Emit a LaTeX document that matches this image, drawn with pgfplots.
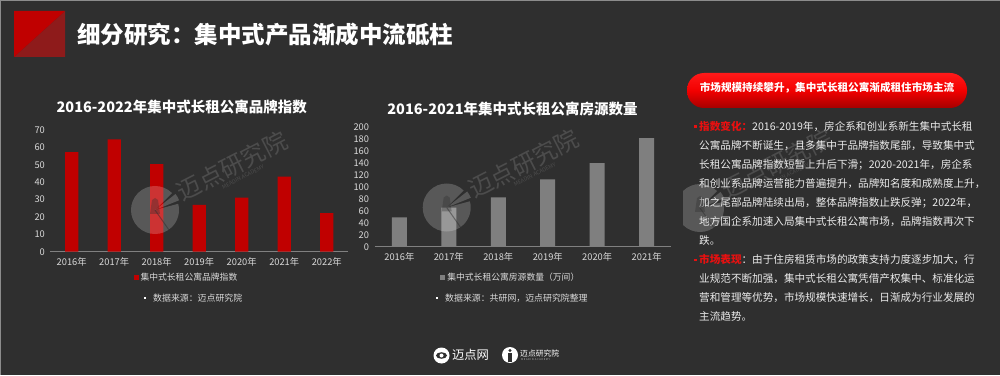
\documentclass[border=0pt]{standalone}
\usepackage{fontspec}
\setmainfont{Noto Sans CJK SC}
\usepackage{pgfplots}
\pgfplotsset{compat=1.18}
\definecolor{bg}{HTML}{2F2F2F}
\definecolor{redbar}{HTML}{C00000}
\definecolor{greybar}{HTML}{7F7F7F}
\definecolor{axisgrey}{HTML}{808080}
\definecolor{ticklbl}{HTML}{D9D9D9}
\definecolor{txt}{HTML}{EBEBEB}
\definecolor{hred}{HTML}{E81010}
\definecolor{sqA}{HTML}{C00000}
\definecolor{sqB}{HTML}{8E1B1B}
\newcommand{\wm}[2]{%
 \begin{scope}[shift={(#1,#2)}]
  \fill[white, opacity=0.2] (0,0) -- (45:24pt) arc[start angle=45, end angle=375, radius=24pt] -- cycle;
  \fill[white, opacity=0.2] (0,0) -- (22:26pt) arc[start angle=22, end angle=38, radius=26pt] -- cycle;
  \draw[bg, line width=1pt, opacity=0.5] (0,0) -- (-55:30pt);
  \fill[bg, opacity=0.35] (-5pt,-4pt) -- (-3pt,10pt) -- (0pt,12pt) -- (3pt,10pt) -- (5pt,-4pt) -- cycle;
  \node[rotate=27, text=white, opacity=0.14, font=\fontsize{24}{24}\selectfont] at (77pt,44pt) {迈点研究院};
  \node[rotate=27, text=white, opacity=0.14, font=\fontsize{5.5}{6}\selectfont] at (88pt,33pt) {MEADIN ACADEMY};
 \end{scope}}
\pgfplotsset{
  slidebars/.style={
    scale only axis, anchor=south west,
    axis x line=bottom, axis y line=left,
    x axis line style={-, draw=axisgrey, line width=1pt},
    y axis line style={draw=none},
    major tick length=0pt, tick style={draw=none},
    tick label style={font=\fontsize{9.3}{11}\selectfont, text=ticklbl},
    yticklabel style={xshift=-2pt},
    xticklabel style={yshift=-2.5pt},
    /pgf/number format/assume math mode=true,
    enlargelimits=false,
    ybar,
    legend style={draw=none, fill=none, text=ticklbl, font=\fontsize{8.8}{10}\selectfont, anchor=center},
    legend image code/.code={\fill[##1] (0pt,-2.5pt) rectangle (5pt,2.5pt);},
  }
}
\begin{document}
\begin{tikzpicture}[x=1pt,y=1pt]
\fill[bg] (0,0) rectangle (1000,375);
\useasboundingbox (0,0) rectangle (1000,375);
\draw[color=black!45, line width=1pt] (0,0) -- (0,374.5) -- (1000,374.5);
% title block
\fill[sqB] (14,318) -- (65,318) -- (65,364) -- cycle;
\fill[sqA] (14,318) -- (14,364) -- (65,364) -- cycle;
\node[anchor=west, text=white, font=\fontsize{23.5}{28}\selectfont\bfseries, inner sep=0pt] at (77,340) {细分研究：集中式产品渐成中流砥柱};
% chart titles
\node[text=white, font=\fontsize{14.5}{17}\selectfont\bfseries] at (181.7,268.3) {2016-2022年集中式长租公寓品牌指数};
\node[text=white, font=\fontsize{14.5}{17}\selectfont\bfseries] at (512.5,266) {2016-2021年集中式长租公寓房源数量};
% chart 1
\begin{axis}[slidebars,
  at={(50.4pt,123.3pt)}, width=297.6pt, height=121.7pt,
  xmin=-0.5, xmax=6.5, ymin=0, ymax=70,
  ytick={0,10,...,70}, xtick={0,...,6},
  xticklabels={2016年,2017年,2018年,2019年,2020年,2021年,2022年},
  bar width=13.3pt,
  legend style={at={(0.457,-0.216)}}]
\addplot[fill=redbar, draw=none] coordinates {(0,57.3) (1,64.6) (2,50.4) (3,26.9) (4,31.1) (5,43.2) (6,22.2)};
\legend{集中式长租公寓品牌指数}
\end{axis}
% chart 2
\begin{axis}[slidebars,
  at={(374.6pt,128.3pt)}, width=296.8pt, height=120pt,
  xmin=-0.5, xmax=5.5, ymin=0, ymax=200,
  ytick={0,20,...,200}, xtick={0,...,5},
  xticklabels={2016年,2017年,2018年,2019年,2020年,2021年},
  bar width=15pt,
  legend style={at={(0.459,-0.2525)}}]
\addplot[fill=greybar, draw=none] coordinates {(0,48.9) (1,65) (2,82.2) (3,112.2) (4,139.4) (5,181.1)};
\legend{集中式长租公寓房源数量（万间）}
\end{axis}
% sources
\fill[white] (144,76) rectangle (146,78);
\node[anchor=west, text=ticklbl, font=\fontsize{8.9}{10}\selectfont, inner sep=0pt] at (153,77) {数据来源：迈点研究院};
\fill[white] (436,76) rectangle (438,78);
\node[anchor=west, text=ticklbl, font=\fontsize{8.9}{10}\selectfont, inner sep=0pt] at (445,77) {数据来源：共研网，迈点研究院整理};
% right panel pill
\shade[rounded corners=17pt, top color=red!90!white, bottom color=red!65!black, middle color=red!95!black] (687,267) rectangle (967,302);
\node[text=white, font=\fontsize{10.6}{12}\selectfont\bfseries] at (827,287) {市场规模持续攀升，集中式长租公寓渐成租住市场主流};
% right panel text
\begin{scope}[every node/.style={anchor=west, inner sep=0pt, text=txt, font=\fontsize{10.6}{12}\selectfont}]
\fill[hred] (694,247) rectangle (696.5,249.5);
\node at (699,248.3) {{\color{hred}\bfseries 指数变化：}2016-2019年，房企系和创业系新生集中式长租};
\node at (699,229.3) {公寓品牌不断诞生，且多集中于品牌指数尾部，导致集中式};
\node at (699,210.3) {长租公寓品牌指数短暂上升后下滑；2020-2021年，房企系};
\node at (699,191.3) {和创业系品牌运营能力普遍提升，品牌知名度和成熟度上升，};
\node at (699,172.3) {加之尾部品牌陆续出局，整体品牌指数止跌反弹；2022年，};
\node at (699,153.3) {地方国企系加速入局集中式长租公寓市场，品牌指数再次下};
\node at (699,134.3) {跌。};
\fill[hred] (694,114) rectangle (696.5,116.5);
\node at (699,115.3) {{\color{hred}\bfseries 市场表现}：由于住房租赁市场的政策支持力度逐步加大，行};
\node at (699,96.3) {业规范不断加强，集中式长租公寓凭借产权集中、标准化运};
\node at (699,77.3) {营和管理等优势，市场规模快速增长，日渐成为行业发展的};
\node at (699,58.3) {主流趋势。};
\end{scope}
% watermarks
\wm{155}{165}
\wm{446.7}{167.5}
\begin{scope}
\clip (683,0) rectangle (1000,375);
\wm{700}{167}
\end{scope}
% footer logos
\fill[white] (441.5,19.5) circle (8);
\fill[bg] (441.5,19.5) ellipse (5.5 and 3.3);
\fill[white] (441.5,19.5) circle (2);
\node[text=white, font=\fontsize{12.3}{14}\selectfont, inner sep=0pt] at (470.5,20) {迈点网};
\fill[white] (510,20) circle (8);
\fill[bg] (508,13) rectangle (512,22);
\fill[bg] (510,24.5) circle (1.6);
\node[anchor=west, text=white, font=\fontsize{7.8}{9}\selectfont, inner sep=0pt] at (520,21.5) {迈点研究院};
\node[anchor=west, text=white!70!black, font=\fontsize{2.6}{3}\selectfont, inner sep=0pt] at (521,15.5) {M E A D I N \ A C A D E M Y};
\end{tikzpicture}
\end{document}
